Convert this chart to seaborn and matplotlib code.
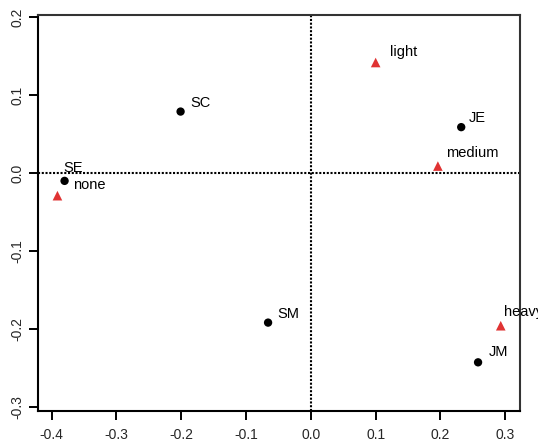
import matplotlib
matplotlib.use("Agg")
import matplotlib.pyplot as plt
import seaborn as sns
import pandas as pd

# Row points (black circles)
row_labels = ["SC", "SE", "JE", "SM", "JM"]
row_x = [-0.201, -0.380, 0.232, -0.066, 0.258]
row_y = [0.079, -0.010, 0.059, -0.192, -0.243]

# Column points (red triangles)
col_labels = ["none", "light", "medium", "heavy"]
col_x = [-0.391, 0.100, 0.196, 0.293]
col_y = [-0.029, 0.142, 0.009, -0.196]

x_ticks = [-0.4, -0.3, -0.2, -0.1, 0.0, 0.1, 0.2, 0.3]
y_ticks = [-0.3, -0.2, -0.1, 0.0, 0.1, 0.2]

# label offsets in pixels (dx, dy)
row_off = {"SC": (10, 9), "SE": (-1, 13), "JE": (8, 9), "SM": (9, 9), "JM": (11, 10)}
col_off = {"none": (16, 11), "light": (14, 11), "medium": (8, 13), "heavy": (3, 14)}

sns.set_style("ticks")
plt.rcParams["font.family"] = ["Liberation Sans", "DejaVu Sans"]

rows = pd.DataFrame({"x": row_x, "y": row_y, "label": row_labels})
cols = pd.DataFrame({"x": col_x, "y": col_y, "label": col_labels})

fig = plt.figure(figsize=(5.38, 4.45), dpi=100)
ax = fig.add_axes([38/538, 1-411/445, (520-38)/538, (411-15)/445])

ax.axhline(0, color="black", linestyle=(0, (1, 0.8)), lw=1.5, zorder=1)
ax.axvline(0, color="black", linestyle=(0, (1, 0.8)), lw=1.5, zorder=1)

sns.scatterplot(data=rows, x="x", y="y", ax=ax, color="black", marker="o",
                s=36, edgecolor="none", zorder=3, legend=False)
sns.scatterplot(data=cols, x="x", y="y", ax=ax, color="#E03333", marker="^",
                s=48, edgecolor="none", zorder=3, legend=False)

for lab, x, y in zip(row_labels, row_x, row_y):
    dx, dy = row_off[lab]
    ax.annotate(lab, (x, y), xytext=(dx, dy), textcoords="offset pixels",
                ha="left", va="center", fontsize=10.5, color="black",
                annotation_clip=False, clip_on=False)
for lab, x, y in zip(col_labels, col_x, col_y):
    dx, dy = col_off[lab]
    ax.annotate(lab, (x, y), xytext=(dx, dy), textcoords="offset pixels",
                ha="left", va="center", fontsize=10.5, color="black",
                annotation_clip=False, clip_on=False)

ax.set_xlim(-0.421, 0.3227)
ax.set_ylim(-0.3055, 0.203)
ax.set_xticks(x_ticks)
ax.set_yticks(y_ticks)
ax.set_xticklabels([f"{v:.1f}" for v in x_ticks])
ax.set_yticklabels([f"{v:.1f}" for v in y_ticks], rotation=90, va="center")
ax.set_xlabel("")
ax.set_ylabel("")
ax.tick_params(axis="both", length=6.5, width=1.4, labelsize=10, color="black")
ax.tick_params(axis="x", pad=6)
ax.tick_params(axis="y", pad=3)
for s in ax.spines.values():
    s.set_visible(True)
    s.set_linewidth(1.5)
    s.set_color("black")
ax.spines["top"].set_color("#333333")
ax.spines["right"].set_color("#333333")

fig.savefig("out.png", dpi=100)
